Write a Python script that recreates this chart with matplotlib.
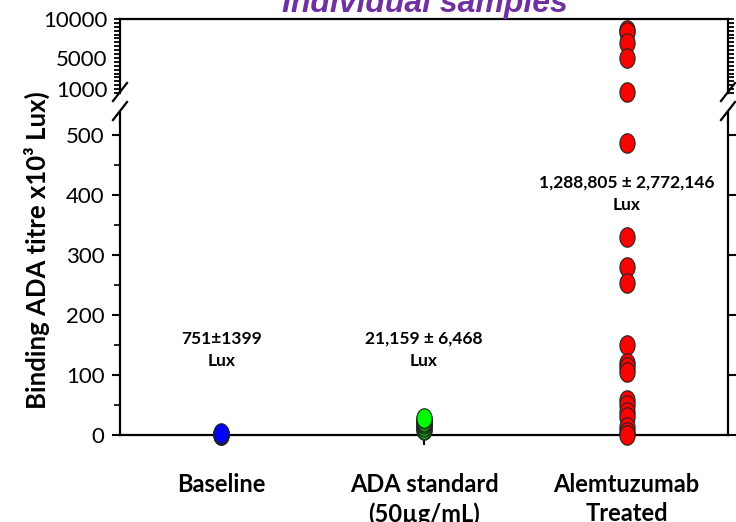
import numpy as np
import matplotlib
matplotlib.use("Agg")
import matplotlib.pyplot as plt
from matplotlib.lines import Line2D
from matplotlib.ticker import MultipleLocator, FixedLocator

plt.rcParams['font.family'] = ['Lato', 'DejaVu Sans']

# data (x10^3 Lux)
categories = ["Baseline", "ADA standard\n(50µg/mL)", "Alemtuzumab\nTreated"]
baseline = [0, 0.5, 1, 2, 4]
ada_standard = [8, 10, 13, 15, 18, 20, 22, 24, 26, 28]
alemtuzumab = [8600, 8350, 6900, 5000, 650,
               487, 330, 280, 253, 150, 120, 113, 105,
               58, 50, 38, 30, 13, 5, 0]
summary = ["751±1399\nLux", "21,159 ± 6,468\nLux", "1,288,805 ± 2,772,146\nLux"]
summary_y = [142, 142, 402]
colors = ["#0000FF", "#00FF00", "#FF0000"]

split = 540  # values above go to the top segment

fig = plt.figure(figsize=(7.36, 5.22), dpi=100)
L, W = 120 / 736, 608 / 736
ax_top = fig.add_axes([L, 1 - 93 / 522, W, 74 / 522])
ax_bot = fig.add_axes([L, 1 - 435 / 522, W, 323 / 522])

# ellipse marker (a bit taller than wide)
t = np.linspace(0, 2 * np.pi, 60)
ell = np.column_stack([0.78 * np.cos(t), np.sin(t)])

groups = [baseline, ada_standard, alemtuzumab]
for i, vals in enumerate(groups):
    vals = np.array(vals, dtype=float)
    x = i + 1
    lo = vals[vals < split]
    hi = vals[vals >= split]
    ax_bot.plot(np.full(len(lo), x), lo, linestyle='none', marker=ell, markersize=14,
                markerfacecolor=colors[i], markeredgecolor='#222222', markeredgewidth=0.8,
                clip_on=False, zorder=3)
    if len(hi):
        ax_top.plot(np.full(len(hi), x), hi, linestyle='none', marker=ell, markersize=14,
                    markerfacecolor=colors[i], markeredgecolor='#222222', markeredgewidth=0.8,
                    clip_on=False, zorder=3)

for ax in (ax_top, ax_bot):
    ax.set_xlim(0.5, 3.5)
    for s in ax.spines.values():
        s.set_linewidth(1.6)

# top segment
ax_top.set_ylim(500, 10000)
ax_top.spines['bottom'].set_visible(False)
ax_top.set_xticks([])
ax_top.yaxis.set_major_locator(FixedLocator([1000, 5000, 10000]))
ax_top.yaxis.set_minor_locator(MultipleLocator(500))
ax_top.tick_params(axis='y', which='both', direction='out', length=4, width=1.3,
                   left=True, right=True, labelsize=16, pad=5)

# lower segment
ax_bot.set_ylim(0, 538)
ax_bot.spines['top'].set_visible(False)
ax_bot.set_yticks(range(0, 501, 100))
ax_bot.yaxis.set_minor_locator(MultipleLocator(50))
ax_bot.tick_params(axis='y', which='major', direction='out', length=6, width=1.5,
                   left=True, right=True, labelsize=16, pad=5)
ax_bot.tick_params(axis='y', which='minor', direction='out', length=4, width=1.2,
                   left=True, right=False)
ax_bot.set_xticks([1, 2, 3])
ax_bot.set_xticklabels(categories, fontsize=17, fontweight='bold', linespacing=1.35)
ax_bot.tick_params(axis='x', direction='out', length=7, width=1.5, pad=20)

for i, txt in enumerate(summary):
    ax_bot.text(i + 1, summary_y[i], txt, ha='center', va='center', fontsize=12.5,
                fontweight='bold', linespacing=1.45)

# break marks
dx, dy = 7 / 736, 9 / 522
for xf in (L, L + W):
    for yf in (1 - 92 / 522, 1 - 111 / 522):
        fig.add_artist(Line2D([xf - dx, xf + dx], [yf - dy, yf + dy], color='black',
                              linewidth=1.6, transform=fig.transFigure))

fig.text(37 / 736, 1 - 250 / 522, "Binding ADA titre x10³ Lux)", rotation=90,
         ha='center', va='center', fontsize=18.5, fontweight='bold')
fig.text(425 / 736, 1 - 12 / 522, "Individual samples", ha='center', va='baseline',
         fontsize=23, fontweight='bold', style='italic', color='#7030A0',
         family='Liberation Sans')

fig.savefig("out.png", dpi=100)
